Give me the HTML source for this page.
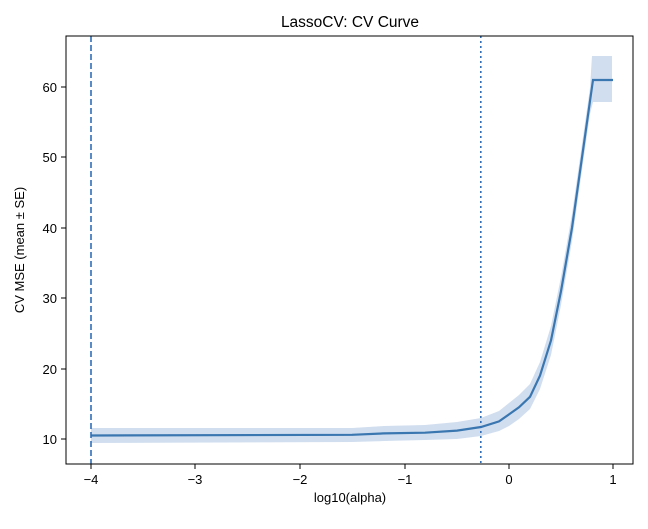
<!DOCTYPE html><html><head><style>body{margin:0;background:#fff}svg text{font-family:"Liberation Sans","DejaVu Sans",sans-serif;fill:#000}</style></head><body>
<svg width="648" height="524" viewBox="0 0 648 524">
<polygon fill="#c9d8ec" fill-opacity="0.85" points="91,428 352,428 384,426 425,425 457,422 481,418 499,411 509,403 519,395 530,384 540,362 551,326 561,277 572,214 582,144 590,88 592,56 612,56 612,102 595,102 593,102 590,114 582,170 572,241 561,305 551,355 540,389 530,409 519,419 509,426 499,431 481,436 457,439 425,440 384,441 352,442 91,443"/>
<polyline fill="none" stroke="#3a76b0" stroke-width="2.2" points="91,435.5 352,434.8 384,433.4 425,432.7 457,430.6 481,427 499,421.4 509,414.4 519,407.3 530,396.8 540,375.6 551,340.4 561,291.2 572,227.8 582,157.4 590,101 593,80 613,80"/>
<line x1="91" y1="36" x2="91" y2="464" stroke="#2f6fb8" stroke-width="1.6" stroke-dasharray="6,3"/>
<line x1="480.8" y1="36" x2="480.8" y2="464" stroke="#2f6fb8" stroke-width="1.6" stroke-dasharray="2,3"/>
<rect x="66" y="36" width="567" height="428" fill="none" stroke="#000" stroke-width="1"/>
<g stroke="#000"><line x1="91" y1="464" x2="91" y2="469"/><line x1="195" y1="464" x2="195" y2="469"/><line x1="300" y1="464" x2="300" y2="469"/><line x1="405" y1="464" x2="405" y2="469"/><line x1="509" y1="464" x2="509" y2="469"/><line x1="613" y1="464" x2="613" y2="469"/>
<line x1="61" y1="439" x2="66" y2="439"/><line x1="61" y1="369" x2="66" y2="369"/><line x1="61" y1="298" x2="66" y2="298"/><line x1="61" y1="228" x2="66" y2="228"/><line x1="61" y1="157" x2="66" y2="157"/><line x1="61" y1="87" x2="66" y2="87"/></g>
<g font-size="13" text-anchor="middle"><text x="91" y="484">−4</text><text x="195" y="484">−3</text><text x="300" y="484">−2</text><text x="405" y="484">−1</text><text x="509" y="484">0</text><text x="613" y="484">1</text></g>
<g font-size="13" text-anchor="end"><text x="57" y="444">10</text><text x="57" y="374">20</text><text x="57" y="303">30</text><text x="57" y="233">40</text><text x="57" y="162">50</text><text x="57" y="92">60</text></g>
<text x="350" y="502" font-size="13" text-anchor="middle">log10(alpha)</text>
<text x="24" y="250" font-size="13" text-anchor="middle" transform="rotate(-90 24 250)">CV MSE (mean ± SE)</text>
<text x="350" y="27" font-size="15.5" text-anchor="middle">LassoCV: CV Curve</text>
</svg></body></html>
